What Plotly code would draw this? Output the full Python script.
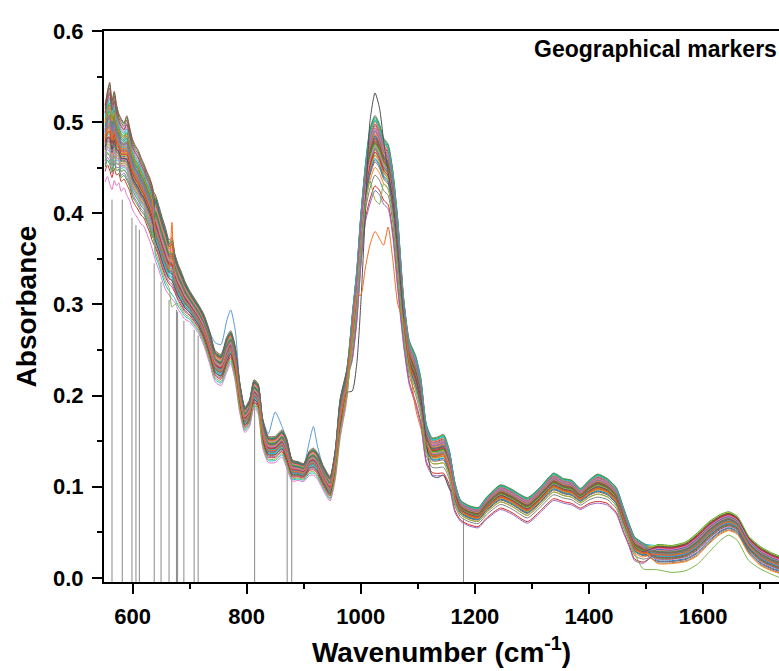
import plotly.graph_objects as go

# Spectral grid (cm-1) with the lower / upper envelope of the sample bundle
wavenumber = [552, 556, 560, 564, 568, 572, 576, 580, 585, 590, 595, 600, 605, 610, 615, 620, 625,
              630, 635, 640, 646, 652, 658, 664, 669, 674, 680, 686, 692, 700, 708, 716, 725, 735,
              745, 755, 765, 772, 780, 788, 797, 805, 813, 820, 828, 838, 850, 862, 870, 880, 890,
              900, 910, 917, 924, 934, 946, 955, 964, 975, 985, 993, 1000, 1008, 1016, 1025, 1033,
              1040, 1048, 1056, 1065, 1075, 1085, 1096, 1105, 1115, 1125, 1135, 1145, 1155,
              1165, 1175, 1190, 1206, 1220, 1245, 1265, 1292, 1315, 1338, 1355, 1370, 1385,
              1400, 1415, 1432, 1448, 1460, 1470, 1480, 1495, 1520, 1545, 1570, 1590, 1610,
              1630, 1645, 1660, 1680, 1700, 1720, 1735]
absorbance_low = [.425, .430, .420, .415, .425, .420, .425, .415, .420, .410, .405, .395, .390, .385,
                  .380, .378, .370, .362, .352, .342, .332, .320, .310, .305, .300, .298, .290, .285,
                  .280, .278, .272, .265, .252, .232, .212, .208, .222, .232, .212, .178, .157, .163,
                  .184, .178, .140, .124, .124, .130, .118, .104, .105, .104, .110, .110, .106, .094,
                  .082, .104, .150, .190, .238, .280, .340, .390, .410, .425, .420, .410, .405, .375,
                  .315, .255, .212, .190, .168, .125, .113, .112, .112, .100, .072, .062, .057, .055,
                  .064, .075, .070, .060, .072, .085, .082, .080, .075, .080, .082, .080, .070, .050,
                  .035, .019, .016, .014, .014, .016, .022, .035, .046, .050, .046, .025, .012, .006,
                  .003]
absorbance_high = [.520, .535, .545, .525, .535, .520, .510, .505, .500, .508, .495, .482, .475, .470,
                   .462, .455, .447, .440, .430, .422, .410, .397, .385, .372, .375, .357, .345, .336,
                   .326, .316, .308, .300, .290, .272, .250, .246, .265, .272, .255, .215, .188, .196,
                   .218, .214, .176, .156, .156, .163, .154, .130, .128, .126, .140, .143, .138, .124,
                   .112, .140, .198, .228, .290, .340, .400, .455, .495, .510, .500, .485, .478, .450,
                   .395, .310, .262, .246, .222, .170, .155, .156, .159, .142, .106, .086, .080, .078,
                   .089, .103, .098, .089, .101, .116, .110, .108, .099, .108, .115, .110, .100, .079,
                   .061, .046, .039, .037, .036, .040, .050, .062, .070, .073, .068, .046, .035, .028,
                   .024]

# Relative position of each sample inside the bundle, per spectral region
level_600 = [0.62, 0.48, 0.81, 0.55, 0.30, 0.70, 0.91, 0.44, 0.66, 0.38, 0.76, 0.58, 0.97, 0.51,
             0.41, 0.68, 0.86, 0.60, 0.57, 0.73, 0.53, 0.46, 0.79, 0.64, 0.34, 0.94, 0.10, 0.69,
             0.43, 0.84, 0.50, 0.63, 0.74, 0.22, 0.59, 0.89, 0.40, 0.71, 0.54, 0.65, 0.47, 0.78,
             0.27, 0.56, 0.67, 0.99, 0.49, 0.61]
level_800 = [0.45, 0.70, 0.58, 0.88, 0.36, 0.61, 0.79, 0.52, 0.95, 0.41, 0.67, 0.84, 0.49, 0.73,
             0.30, 0.90, 0.56, 0.64, 0.77, 0.15, 0.60, 0.83, 0.47, 0.71, 0.55, 0.98, 0.08, 0.62,
             0.86, 0.39, 0.74, 0.51, 0.93, 0.26, 0.68, 0.57, 0.81, 0.44, 0.66, 0.53, 0.92, 0.35,
             0.76, 0.59, 0.48, 0.87, 0.63, 0.70]
level_1200 = [0.55, 0.72, 0.46, 0.86, 0.63, 0.37, 0.69, 0.78, 0.52, 0.93, 0.60, 0.30, 0.66, 0.81,
              0.57, 0.49, 0.75, 0.97, 0.62, 0.42, 0.70, 0.89, 0.54, 0.06, 0.77, 0.61, 0.65, 0.20,
              0.83, 0.58, 0.71, 0.45, 0.95, 0.64, 0.00, 0.68, 0.80, 0.53, 0.59, 0.91, 0.40, 0.73,
              0.62, 0.50, 0.84, 0.67, 0.56, 0.76]
level_1600 = [0.66, 0.52, 0.76, 0.40, 0.87, 0.60, 0.28, 0.71, 0.56, 0.93, 0.47, 0.64, 0.35, 0.81,
              0.69, 0.18, 0.58, 0.74, 0.50, 0.85, 0.43, 0.62, 0.98, 0.54, 0.67, 0.31, 0.78, 0.45,
              0.90, 0.59, 0.22, 0.72, 0.51, 0.83, 0.63, 0.38, 0.70, 0.12, 0.95, 0.44, 0.75, 0.08,
              0.65, 0.86, 0.48, 0.61, 0.79, 0.55]
REGION_EDGES = [640, 985, 1520]

# Samples that leave the bundle: (colour, levels, absorbance at given wavenumbers)
outliers = [
    ("#5a9bd8", (0.90, 0.95, 0.90, 0.85),
     {745: .258, 755: .256, 765: .282, 772: .294, 780: .272, 838: .158, 850: .182, 862: .166,
      910: .150, 917: .166, 924: .145}),
    ("#505050", (0.50, 0.35, 0.55, 0.90),
     {985: .205, 993: .235, 1000: .300, 1008: .400, 1016: .500, 1025: .532, 1033: .515, 1040: .480,
      1125: .112, 1135: .110, 1145: .113, 1155: .098}),
    ("#f26b1d", (0.60, 0.50, 0.50, 0.50),
     {669: .390, 1000: .310, 1008: .340, 1016: .365, 1025: .380, 1033: .372, 1040: .365, 1048: .385,
      1056: .350, 1065: .300, 1096: .186, 1105: .165}),
    ("#7ab648", (0.35, 0.20, 0.30, 0.00),
     {669: .297, 674: .300, 1025: .415, 1033: .410, 1495: .010, 1520: .009, 1545: .006, 1570: .008,
      1590: .015, 1610: .028, 1630: .041, 1645: .047, 1660: .041, 1680: .019, 1700: .010,
      1720: .004, 1735: .000}),
]

# Geographical marker bands and the absorbance they reach
marker_wavenumber = [564, 582, 599, 606, 612, 638, 650, 664, 677, 679, 690, 708, 715, 814, 871, 879, 1180]
marker_height = [0.415, 0.415, 0.395, 0.387, 0.382, 0.345, 0.325, 0.305, 0.294, 0.292, 0.282,
                 0.272, 0.266, 0.200, 0.125, 0.115, 0.065]

PALETTE = ["#1f77b4", "#ff7f0e", "#2ca02c", "#d62728", "#9467bd",
           "#8c564b", "#e377c2", "#7f7f7f", "#bcbd22", "#17becf"]
X_RANGE = [550, 1733]
Y_RANGE = [-0.0045, 0.6]
FONT = "Liberation Sans, Arial, sans-serif"


def spectrum(levels, fixed=None):
    fixed = fixed or {}
    ys = []
    for w, lo, hi in zip(wavenumber, absorbance_low, absorbance_high):
        region = sum(w >= e for e in REGION_EDGES)
        ys.append(fixed.get(w, lo + levels[region] * (hi - lo)))
    return ys


def line(color):
    return dict(color=color, width=1, shape="spline", smoothing=0.6)


fig = go.Figure()

# vertical marker lines from the axis up to the spectra
mx, my = [], []
for w, h in zip(marker_wavenumber, marker_height):
    mx += [w, w, None]
    my += [Y_RANGE[0], h, None]
fig.add_trace(go.Scatter(x=mx, y=my, mode="lines",
                         line=dict(color="#8a8a8a", width=1), hoverinfo="skip"))

for color, levels, fixed in outliers[:1]:
    fig.add_trace(go.Scatter(x=wavenumber, y=spectrum(levels, fixed), mode="lines", line=line(color)))

for i, levels in enumerate(zip(level_600, level_800, level_1200, level_1600)):
    fig.add_trace(go.Scatter(x=wavenumber, y=spectrum(levels), mode="lines", line=line(PALETTE[i % 10])))

for color, levels, fixed in outliers[1:]:
    fig.add_trace(go.Scatter(x=wavenumber, y=spectrum(levels, fixed), mode="lines", line=line(color)))

fig.add_annotation(text="Geographical markers", xref="paper", yref="paper", x=1.0, y=0.967,
                   xanchor="right", yanchor="middle", showarrow=False,
                   font=dict(family=FONT, size=23, color="black", weight="bold"))

fig.update_layout(
    width=779, height=671,
    margin=dict(l=104, r=0, t=31, b=89),
    paper_bgcolor="white", plot_bgcolor="white",
    showlegend=False, hovermode=False,
    font=dict(family=FONT, color="black"),
)
fig.update_xaxes(
    range=X_RANGE, showgrid=False, zeroline=False,
    showline=True, linecolor="black", linewidth=2, mirror=True,
    ticks="outside", ticklen=10, tickwidth=2, tickcolor="black",
    dtick=200, tick0=0, ticklabelstandoff=4,
    minor=dict(ticks="outside", ticklen=5, tickwidth=2, tickcolor="black", dtick=100),
    tickfont=dict(family=FONT, size=22, weight="bold"),
    title=dict(text="Wavenumber (cm<sup>-1</sup>)", standoff=14,
               font=dict(family=FONT, size=28, weight="bold")),
)
fig.update_yaxes(
    range=Y_RANGE, showgrid=False, zeroline=False,
    showline=True, linecolor="black", linewidth=2, mirror=False,
    ticks="outside", ticklen=10, tickwidth=2, tickcolor="black",
    dtick=0.1, tick0=0, tickformat=".1f", ticklabelstandoff=4,
    minor=dict(ticks="outside", ticklen=5, tickwidth=2, tickcolor="black", dtick=0.05),
    tickfont=dict(family=FONT, size=22, weight="bold"),
    title=dict(text="Absorbance", standoff=8,
               font=dict(family=FONT, size=28, weight="bold")),
)

fig.write_html("out.html")
